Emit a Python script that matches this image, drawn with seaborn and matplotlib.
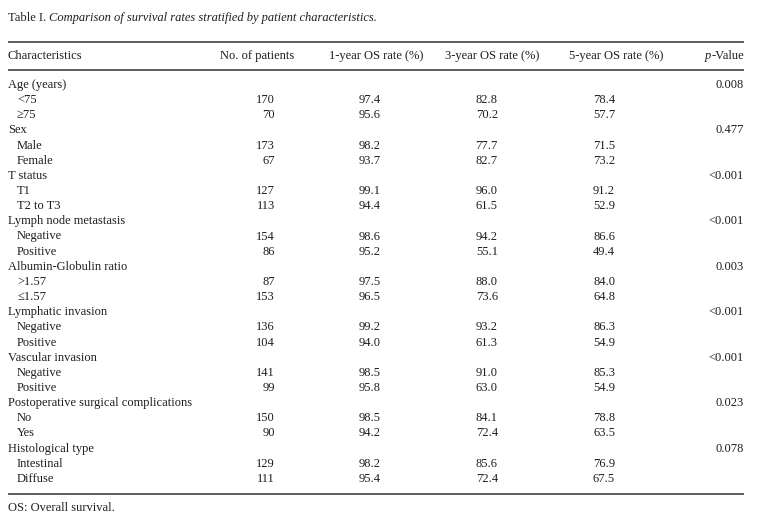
import numpy as np
import pandas as pd
import matplotlib.pyplot as plt
import seaborn as sns

# table contents
groups = ["Age (years)", "Sex", "T status", "Lymph node metastasis",
          "Albumin-Globulin ratio", "Lymphatic invasion", "Vascular invasion",
          "Postoperative surgical complications", "Histological type"]
p_values = ["0.008", "0.477", "<0.001", "<0.001", "0.003", "<0.001", "<0.001", "0.023", "0.078"]
levels = [["<75", "\u226575"], ["Male", "Female"], ["T1", "T2 to T3"],
          ["Negative", "Positive"], [">1.57", "\u22641.57"], ["Negative", "Positive"],
          ["Negative", "Positive"], ["No", "Yes"], ["Intestinal", "Diffuse"]]
n_patients = [[170, 70], [173, 67], [127, 113], [154, 86], [87, 153],
              [136, 104], [141, 99], [150, 90], [129, 111]]
os_1y = [[97.4, 95.6], [98.2, 93.7], [99.1, 94.4], [98.6, 95.2], [97.5, 96.5],
         [99.2, 94.0], [98.5, 95.8], [98.5, 94.2], [98.2, 95.4]]
os_3y = [[82.8, 70.2], [77.7, 82.7], [96.0, 61.5], [94.2, 55.1], [88.0, 73.6],
         [93.2, 61.3], [91.0, 63.0], [84.1, 72.4], [85.6, 72.4]]
os_5y = [[78.4, 57.7], [71.5, 73.2], [91.2, 52.9], [86.6, 49.4], [84.0, 64.8],
         [86.3, 54.9], [85.3, 54.9], [78.8, 63.5], [76.9, 67.5]]
headers = ["Characteristics", "No. of patients", "1-year OS rate (%)",
           "3-year OS rate (%)", "5-year OS rate (%)"]

# build the long table (group row + level rows)
rows = []
for g, p, lv, n, a, b, c in zip(groups, p_values, levels, n_patients, os_1y, os_3y, os_5y):
    rows.append([g, "", "", "", "", p, 0])
    for k in range(2):
        rows.append([lv[k], str(n[k]), f"{a[k]:.1f}", f"{b[k]:.1f}", f"{c[k]:.1f}", "", 1])
df = pd.DataFrame(rows, columns=["label", "n", "y1", "y3", "y5", "p", "indent"])

sns.set_theme(style="white")
plt.rcParams['font.family'] = ['Liberation Serif', 'DejaVu Serif']
ink = "#1e1e1e"
fs = 9

fig = plt.figure(figsize=(7.62, 5.30), dpi=100)
ax = fig.add_axes([0, 0, 1, 1])
ax.set_xlim(0, 762)
ax.set_ylim(530, 0)
ax.axis("off")

# title: roman + italic
t1 = ax.text(8, 18, "Table I. ", fontsize=fs, color=ink, va="center")
ax.annotate("Comparison of survival rates stratified by patient characteristics.",
            xy=(1, 0), xycoords=t1, va="bottom", fontsize=fs, color=ink, style="italic")

# rules
for y in [42, 70, 494]:
    ax.plot([8, 744], [y, y], color="#404040", lw=1.2, solid_capstyle="butt")

# header
hy = 56
ax.text(8, hy, headers[0], fontsize=fs, color=ink, va="center")
ax.text(257, hy, headers[1], fontsize=fs, color=ink, va="center", ha="center")
ax.text(376, hy, headers[2], fontsize=fs, color=ink, va="center", ha="center")
ax.text(492, hy, headers[3], fontsize=fs, color=ink, va="center", ha="center")
ax.text(616, hy, headers[4], fontsize=fs, color=ink, va="center", ha="center")
pv = ax.text(744, hy, "-Value", fontsize=fs, color=ink, va="center", ha="right")
ax.annotate("p", xy=(0, 0), xycoords=pv, va="bottom", ha="right",
            fontsize=fs, color=ink, style="italic")

# body
y0, dy = 85, 15.15
col_x = {"n": 275, "y1": 381, "y3": 498, "y5": 615, "p": 744}
for i, r in df.iterrows():
    y = y0 + i * dy
    ax.text(8 + 9 * r["indent"], y, r["label"], fontsize=fs, color=ink, va="center")
    for c, x in col_x.items():
        if r[c]:
            ax.text(x, y, r[c], fontsize=fs, color=ink, va="center", ha="right")

ax.text(8, 508, "OS: Overall survival.", fontsize=fs, color=ink, va="center")

fig.savefig("out.png", dpi=100)
